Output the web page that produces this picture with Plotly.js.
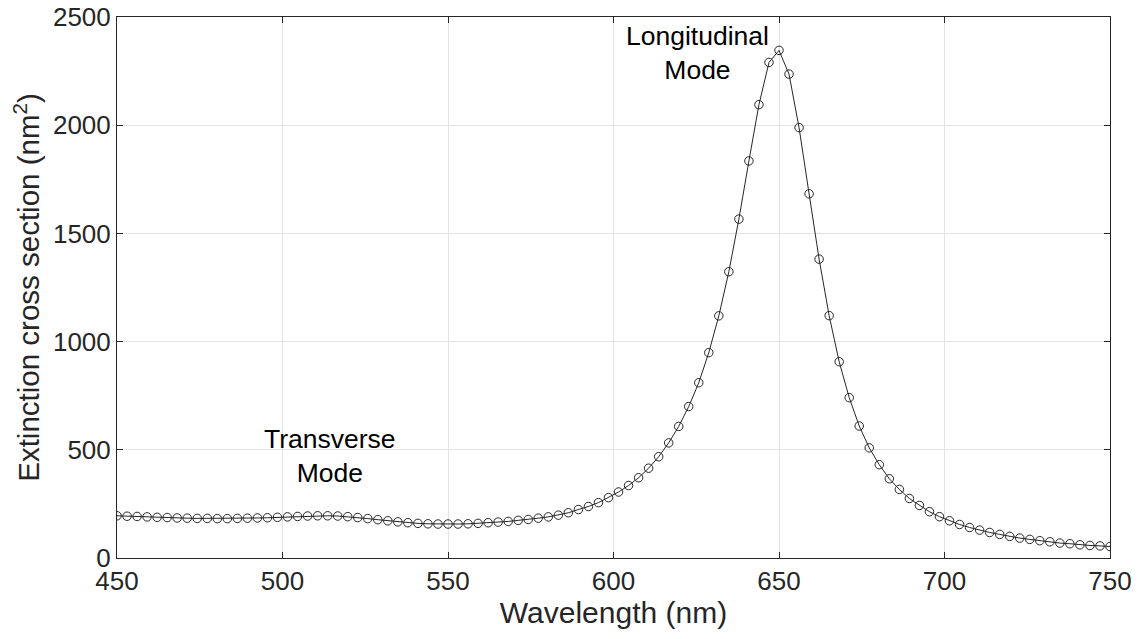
<!DOCTYPE html>
<html>
<head>
<meta charset="utf-8">
<script src="https://cdn.plot.ly/plotly-3.0.1.min.js"></script>
<style>html,body{margin:0;padding:0;background:#fff;}#chart{width:1141px;height:639px;}</style>
</head>
<body>
<div id="chart"></div>
<script>
const wavelength = [450.00,453.03,456.06,459.09,462.12,465.15,468.18,471.21,474.24,477.27,
480.30,483.33,486.36,489.39,492.42,495.45,498.48,501.52,504.55,507.58,
510.61,513.64,516.67,519.70,522.73,525.76,528.79,531.82,534.85,537.88,
540.91,543.94,546.97,550.00,553.03,556.06,559.09,562.12,565.15,568.18,
571.21,574.24,577.27,580.30,583.33,586.36,589.39,592.42,595.45,598.48,
601.52,604.55,607.58,610.61,613.64,616.67,619.70,622.73,625.76,628.79,
631.82,634.85,637.88,640.91,643.94,646.97,650.00,653.03,656.06,659.09,
662.12,665.15,668.18,671.21,674.24,677.27,680.30,683.33,686.36,689.39,
692.42,695.45,698.48,701.52,704.55,707.58,710.61,713.64,716.67,719.70,
722.73,725.76,728.79,731.82,734.85,737.88,740.91,743.94,746.97,750.00];

const extinction = [195,193,192,190,188,187,185,184,183,183,
182,182,183,184,185,186,188,190,192,194,
195,195,194,191,187,182,177,172,167,163,
160,158,157,157,157,158,160,163,166,169,
174,178,184,190,198,209,224,238,256,279,
305,335,371,415,468,532,608,700,810,949,
1119,1323,1566,1835,2095,2290,2346,2236,1989,1683,
1381,1120,907,741,610,509,431,366,317,275,
243,214,191,172,155,141,129,118,109,100,
92,86,80,75,69,66,61,58,56,53];

const xTicks = [450,500,550,600,650,700,750];
const yTicks = [0,500,1000,1500,2000,2500];

const labelText = ["Transverse<br>Mode", "Longitudinal<br>Mode"];
const labelX = [514.3, 625.3];
const labelY = [471, 2335];

const fontFam = '"Liberation Sans", Arial, Helvetica, sans-serif';
const axisColor = '#262626';

const trace = {
  x: wavelength, y: extinction, type: 'scatter', mode: 'lines+markers',
  line: {color: '#262626', width: 1},
  marker: {symbol: 'circle-open', size: 8.5, color: '#262626', line: {width: 1, color: '#262626'}},
  hoverinfo: 'x+y'
};

const axisCommon = {
  showline: true, mirror: 'ticks', linecolor: axisColor, linewidth: 1,
  ticks: 'inside', ticklen: 6, tickcolor: axisColor, tickwidth: 1,
  showgrid: true, gridcolor: '#e3e3e3', gridwidth: 1, zeroline: false,
  tickfont: {family: fontFam, size: 26, color: axisColor}
};

const layout = {
  width: 1141, height: 639,
  margin: {l: 117, r: 31, t: 17, b: 81},
  paper_bgcolor: '#fff', plot_bgcolor: '#fff',
  showlegend: false,
  xaxis: Object.assign({}, axisCommon, {
    range: [450, 750], tickmode: 'array', tickvals: xTicks, ticktext: xTicks.map(String),
    title: {text: 'Wavelength (nm)', font: {family: fontFam, size: 30, color: axisColor}, standoff: 6}
  }),
  yaxis: Object.assign({}, axisCommon, {
    range: [0, 2500], tickmode: 'array', tickvals: yTicks, ticktext: yTicks.map(String),
    title: {text: 'Extinction cross section (nm<sup>2</sup>)', font: {family: fontFam, size: 29.5, color: axisColor}, standoff: 4}
  }),
  annotations: labelText.map((t, i) => ({
    x: labelX[i], y: labelY[i], xref: 'x', yref: 'y', text: t, showarrow: false,
    font: {family: fontFam, size: 26.5, color: '#000'}, align: 'center', xanchor: 'center', yanchor: 'middle'
  }))
};

Plotly.newPlot('chart', [trace], layout, {displayModeBar: false, staticPlot: true});
</script>
</body>
</html>
